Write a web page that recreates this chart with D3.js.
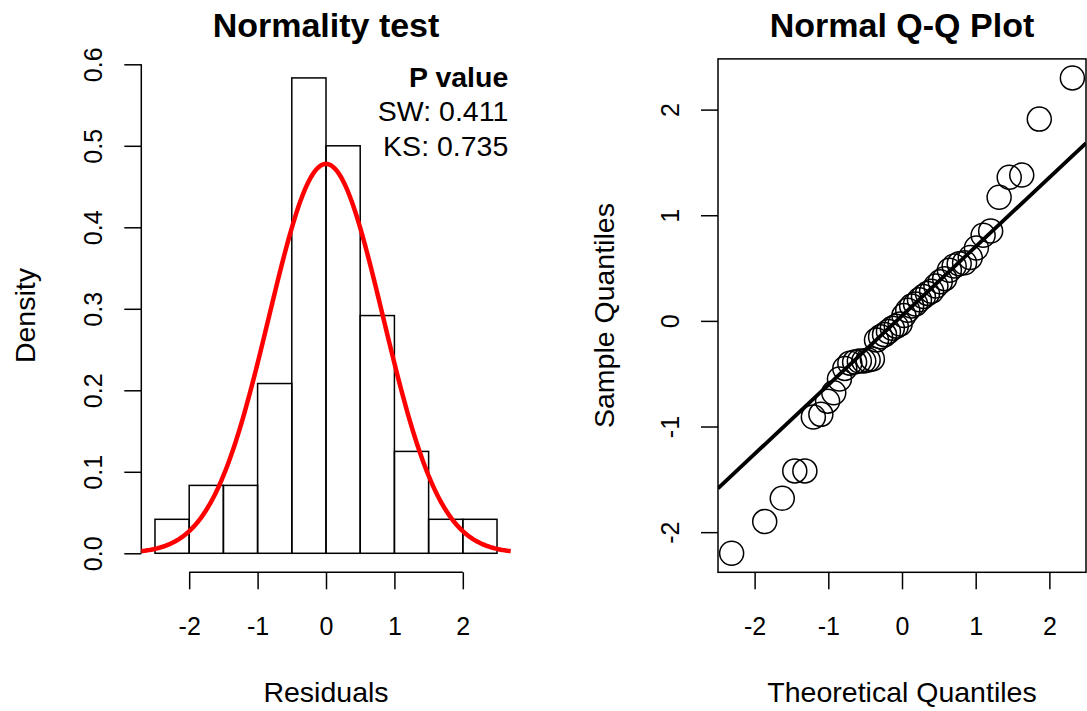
<!DOCTYPE html>
<html>
<head>
<meta charset="utf-8">
<script src="https://cdn.jsdelivr.net/npm/d3@7"></script>
<style>
  html, body { margin: 0; padding: 0; background: #fff; }
  svg { display: block; font-family: "Liberation Sans", Arial, sans-serif; }
</style>
</head>
<body>
<svg id="chart" width="1087" height="711"></svg>
<script>
// ---------------- data ----------------
const histBreaks = [-2.5, -2, -1.5, -1, -0.5, 0, 0.5, 1, 1.5, 2, 2.5];
const histDensity = [0.0417, 0.0833, 0.0833, 0.2083, 0.5833, 0.5, 0.2917, 0.125, 0.0417, 0.0417];
const curveMean = 0.0;
const curveSd = 0.835;
const histXTicks = [-2, -1, 0, 1, 2];
const histYTicks = [0, 0.1, 0.2, 0.3, 0.4, 0.5, 0.6];
const pValueLines = ["SW: 0.411", "KS: 0.735"];

const theoretical = [
  -2.312, -1.863, -1.625, -1.455, -1.318, -1.203, -1.101, -1.010, -0.926, -0.849,
  -0.776, -0.708, -0.643, -0.579, -0.519, -0.460, -0.402, -0.346, -0.291, -0.237,
  -0.184, -0.131, -0.078, -0.026,
   0.026,  0.078,  0.131,  0.184,  0.237,  0.291,  0.346,  0.402,  0.460,  0.519,
   0.579,  0.643,  0.708,  0.776,  0.849,  0.926,  1.010,  1.101,  1.203,  1.318,
   1.455,  1.625,  1.863,  2.312];
const sample = [
  -2.20, -1.90, -1.68, -1.42, -1.42, -0.91, -0.885, -0.76, -0.68, -0.55,
  -0.45, -0.40, -0.39, -0.38, -0.38, -0.37, -0.36, -0.18, -0.15, -0.13,
  -0.10, -0.07, -0.05, -0.03,
   0.05,  0.10,  0.14,  0.16,  0.20,  0.23,  0.26,  0.28,  0.33,  0.37,
   0.40,  0.48,  0.52,  0.54,  0.55,  0.60,  0.69,  0.81,  0.85,  1.17,
   1.36,  1.38,  1.91,  2.30];
const qqXTicks = [-2, -1, 0, 1, 2];
const qqYTicks = [-2, -1, 0, 1, 2];

// ---------------- layout ----------------
const svg = d3.select("#chart");
const FONT_TICK = 25, FONT_LAB = 28.5, FONT_MAIN = 34;
const plotTop = 58.9, plotBottom = 572.3;
const left1 = 141.3, right1 = 510.7;
const left2 = 718, right2 = 1086;
const ink = "#000";
const intFmt = d => String(d);          // plain hyphen-minus like R
const oneDec = d => d.toFixed(1);

function ext(lo, hi) { const r = hi - lo; return [lo - 0.04 * r, hi + 0.04 * r]; }

function styleAxis(g) {
  g.attr("font-family", null).attr("font-size", FONT_TICK);
  g.selectAll("path, line").attr("stroke", ink).attr("stroke-width", 1.5);
  g.selectAll("text").attr("fill", "#000");
}

// ================= Histogram panel =================
const hx = d3.scaleLinear().domain(ext(histBreaks[0], histBreaks[histBreaks.length - 1])).range([left1, right1]);
const hy = d3.scaleLinear().domain(ext(0, d3.max(histDensity))).range([plotBottom, plotTop]);

const g1 = svg.append("g");
g1.selectAll("rect.bar").data(histDensity).join("rect")
  .attr("class", "bar")
  .attr("x", (d, i) => hx(histBreaks[i]))
  .attr("width", (d, i) => hx(histBreaks[i + 1]) - hx(histBreaks[i]))
  .attr("y", d => hy(d))
  .attr("height", d => hy(0) - hy(d))
  .attr("fill", "none").attr("stroke", ink).attr("stroke-width", 1.5);

const xAxis1 = d3.axisBottom(hx).tickValues(histXTicks).tickSize(17).tickPadding(0).tickFormat(intFmt);
const gx1 = g1.append("g").attr("transform", `translate(0,${plotBottom})`).call(xAxis1);
gx1.select(".domain").attr("d", `M${hx(histXTicks[0])},0H${hx(histXTicks[histXTicks.length - 1])}`);
styleAxis(gx1);
gx1.selectAll(".tick text").attr("y", null).attr("dy", null).attr("transform", "translate(0,62.7)");

const yAxis1 = d3.axisLeft(hy).tickValues(histYTicks).tickSize(17).tickFormat(oneDec);
const gy1 = g1.append("g").attr("transform", `translate(${left1},0)`).call(yAxis1);
gy1.select(".domain").attr("d", `M0,${hy(histYTicks[0])}V${hy(histYTicks[histYTicks.length - 1])}`);
styleAxis(gy1);
gy1.selectAll(".tick text")
  .attr("x", null).attr("dy", null)
  .attr("text-anchor", "middle")
  .attr("transform", "translate(-39,0) rotate(-90)");

const xs = d3.range(0, 301).map(i => hx.domain()[0] + (hx.domain()[1] - hx.domain()[0]) * i / 300);
const dnorm = x => Math.exp(-0.5 * ((x - curveMean) / curveSd) ** 2) / (curveSd * Math.sqrt(2 * Math.PI));
g1.append("path")
  .datum(xs)
  .attr("d", d3.line().x(d => hx(d)).y(d => hy(dnorm(d))))
  .attr("fill", "none").attr("stroke", "#ff0000").attr("stroke-width", 4.5)
  .attr("stroke-linejoin", "round");

g1.append("text").attr("x", (left1 + right1) / 2).attr("y", 37.3)
  .attr("text-anchor", "middle").attr("font-weight", "bold").attr("font-size", FONT_MAIN)
  .text("Normality test");
g1.append("text").attr("x", (left1 + right1) / 2).attr("y", 702)
  .attr("text-anchor", "middle").attr("font-size", FONT_LAB).text("Residuals");
g1.append("text").attr("transform", `translate(${left1 - 106},${(plotTop + plotBottom) / 2}) rotate(-90)`)
  .attr("text-anchor", "middle").attr("font-size", FONT_LAB).text("Density");

g1.append("text").attr("x", 508.3).attr("y", 86.7).attr("text-anchor", "end")
  .attr("font-weight", "bold").attr("font-size", FONT_LAB).text("P value");
g1.selectAll("text.pv").data(pValueLines).join("text").attr("class", "pv")
  .attr("x", 508.3).attr("y", (d, i) => 121.4 + i * 34.7)
  .attr("text-anchor", "end").attr("font-size", FONT_LAB).text(d => d);

// ================= Q-Q panel =================
const qx = d3.scaleLinear().domain(ext(d3.min(theoretical), d3.max(theoretical))).range([left2, right2]);
const qy = d3.scaleLinear().domain(ext(d3.min(sample), d3.max(sample))).range([plotBottom, plotTop]);

const g2 = svg.append("g");
svg.append("defs").append("clipPath").attr("id", "qqclip")
  .append("rect").attr("x", left2).attr("y", plotTop).attr("width", right2 - left2).attr("height", plotBottom - plotTop);

const pts = theoretical.map((t, i) => ({ t, s: sample[i] }));
const gp = g2.append("g").attr("clip-path", "url(#qqclip)");
gp.selectAll("circle").data(pts).join("circle")
  .attr("cx", d => qx(d.t)).attr("cy", d => qy(d.s)).attr("r", 12)
  .attr("fill", "none").attr("stroke", ink).attr("stroke-width", 1.5);

const sorted = sample.slice().sort(d3.ascending);
const q1 = d3.quantile(sorted, 0.25), q3 = d3.quantile(sorted, 0.75);
const zq = 0.6744897501960817;
const slope = (q3 - q1) / (2 * zq);
const intercept = q1 + slope * zq;
const xd = qx.domain();
gp.append("line")
  .attr("x1", qx(xd[0])).attr("y1", qy(intercept + slope * xd[0]))
  .attr("x2", qx(xd[1])).attr("y2", qy(intercept + slope * xd[1]))
  .attr("stroke", ink).attr("stroke-width", 3.8);

g2.append("rect").attr("x", left2).attr("y", plotTop).attr("width", right2 - left2).attr("height", plotBottom - plotTop)
  .attr("fill", "none").attr("stroke", ink).attr("stroke-width", 1.5);

const xAxis2 = d3.axisBottom(qx).tickValues(qqXTicks).tickSize(17).tickPadding(0).tickFormat(intFmt);
const gx2 = g2.append("g").attr("transform", `translate(0,${plotBottom})`).call(xAxis2);
gx2.select(".domain").remove();
styleAxis(gx2);
gx2.selectAll(".tick text").attr("y", null).attr("dy", null).attr("transform", "translate(0,62.7)");

const yAxis2 = d3.axisLeft(qy).tickValues(qqYTicks).tickSize(17).tickFormat(intFmt);
const gy2 = g2.append("g").attr("transform", `translate(${left2},0)`).call(yAxis2);
gy2.select(".domain").remove();
styleAxis(gy2);
gy2.selectAll(".tick text")
  .attr("x", null).attr("dy", null)
  .attr("text-anchor", "middle")
  .attr("transform", "translate(-39,0) rotate(-90)");

g2.append("text").attr("x", (left2 + right2) / 2).attr("y", 37.3)
  .attr("text-anchor", "middle").attr("font-weight", "bold").attr("font-size", FONT_MAIN)
  .text("Normal Q-Q Plot");
g2.append("text").attr("x", (left2 + right2) / 2).attr("y", 702)
  .attr("text-anchor", "middle").attr("font-size", FONT_LAB).text("Theoretical Quantiles");
g2.append("text").attr("transform", `translate(${left2 - 104},${(plotTop + plotBottom) / 2}) rotate(-90)`)
  .attr("text-anchor", "middle").attr("font-size", FONT_LAB).text("Sample Quantiles");
</script>
</body>
</html>
